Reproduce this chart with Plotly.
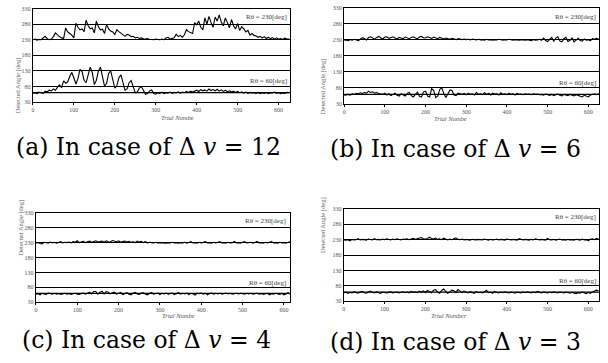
import plotly.graph_objects as go

trials = list(range(0, 626, 5))

a_upper = [230,232,229,231,230,236,241,233,230,232,
           240,252,245,240,236,234,268,255,250,245,
           236,283,270,262,265,256,293,275,265,268,
           252,290,272,262,264,250,280,265,258,255,
           247,262,256,250,247,241,247,245,240,241,
           236,238,234,236,233,232,234,231,231,230,
           232,231,230,232,230,236,238,232,233,236,
           248,240,244,238,246,262,256,253,250,285,
           278,290,270,262,300,280,305,285,270,303,
           290,310,287,275,300,285,268,295,275,265,
           282,260,272,265,255,260,245,250,244,242,
           238,241,236,240,234,238,233,237,232,236,
           232,234,231,235,232,233]
a_lower = [58,60,57,62,60,58,65,63,68,66,
           72,68,78,85,76,98,90,95,112,125,
           108,88,105,135,128,100,92,120,142,125,
           86,100,130,142,115,80,90,122,130,105,
           75,82,108,117,95,68,72,92,99,80,
           60,62,75,80,65,55,57,66,69,57,
           55,60,58,62,57,60,59,62,58,61,
           60,63,59,62,60,64,61,65,62,66,
           68,64,70,66,69,65,72,67,70,66,
           71,65,69,64,68,63,66,62,65,61,
           64,60,63,59,62,58,61,59,60,58,
           61,57,60,58,61,57,60,59,62,58,
           60,57,59,58,61,60]
b_upper = [229,230,228,231,229,232,230,228,233,237,
           234,230,238,240,236,232,238,241,236,233,
           239,240,235,237,240,236,233,238,235,234,
           239,237,234,238,240,236,234,239,241,237,
           236,240,238,235,239,237,234,238,236,233,
           236,234,232,235,233,231,234,232,231,233,
           231,232,230,233,231,230,232,230,231,229,
           232,230,231,229,231,230,232,230,229,231,
           230,232,230,229,231,230,229,231,230,229,
           231,230,228,231,229,230,232,229,236,228,
           225,232,238,226,236,240,227,224,234,238,
           225,229,236,224,230,235,228,226,233,229,
           231,227,234,232,235,233]
b_lower = [57,58,60,58,62,60,63,62,65,63,
           66,64,70,66,68,64,66,63,62,60,
           64,58,62,56,60,64,57,55,62,58,
           55,63,66,56,52,60,67,54,52,68,
           70,55,52,78,72,50,55,76,80,62,
           50,62,74,72,58,56,64,62,60,63,
           59,64,60,62,58,66,60,62,59,65,
           60,63,58,64,61,62,58,65,60,62,
           59,64,60,62,58,63,60,61,59,62,
           60,61,59,62,60,61,59,60,58,61,
           59,57,60,56,59,61,57,55,60,58,
           56,60,57,55,59,56,53,52,57,55,
           52,58,60,62,59,63]
c_upper = [229,230,227,226,231,229,228,232,229,231,
           228,230,233,229,231,230,232,229,233,231,
           236,230,232,234,230,233,235,231,234,236,
           232,233,235,231,236,233,232,237,234,233,
           236,231,234,235,232,234,231,233,230,235,
           232,234,230,233,229,231,230,229,231,228,
           230,229,230,228,230,229,231,229,230,228,
           230,229,231,228,230,233,229,230,228,231,
           229,230,233,229,230,228,231,229,230,233,
           229,230,228,231,229,230,234,229,230,228,
           231,233,229,230,231,228,230,234,229,230,
           228,231,229,230,233,229,230,228,231,229,
           230,228,231,234,230,232]
c_lower = [57,59,55,60,58,56,61,58,57,60,
           57,59,56,58,60,57,59,56,58,60,
           57,56,59,61,57,62,64,58,66,66,
           57,64,67,58,66,64,58,62,64,57,
           61,63,56,60,62,57,55,60,63,58,
           56,61,62,57,55,60,62,57,59,61,
           56,60,58,61,57,59,61,56,60,62,
           57,60,58,61,56,60,58,54,60,59,
           61,57,60,55,59,61,57,60,58,60,
           57,59,61,58,60,57,59,60,58,60,
           59,57,60,58,60,57,59,60,57,59,
           56,58,60,55,59,57,60,58,56,60,
           55,58,62,57,64,60]
d_upper = [229,228,230,226,231,229,230,233,229,231,
           230,228,232,230,229,233,230,231,229,232,
           230,233,231,229,232,230,233,231,229,232,
           231,233,230,232,234,231,233,235,237,233,
           232,234,238,234,232,235,231,233,230,235,
           231,229,232,230,233,236,231,230,232,229,
           231,230,228,231,230,229,231,230,229,232,
           230,228,231,229,230,232,229,231,230,228,
           232,230,229,231,230,228,233,230,229,231,
           230,228,231,229,233,230,229,231,230,228,
           234,230,229,231,228,230,232,229,230,228,
           231,229,230,228,231,230,228,232,229,230,
           227,231,233,230,234,232]
d_lower = [58,60,56,59,57,61,58,56,60,62,
           58,56,60,63,59,57,61,58,56,60,
           58,57,59,61,57,59,60,57,59,61,
           58,60,57,62,59,61,58,63,60,64,
           58,65,62,58,66,68,60,56,65,70,
           62,56,60,66,64,58,68,62,58,63,
           60,57,61,59,56,62,58,60,57,61,
           66,58,60,56,62,59,57,60,58,61,
           59,57,60,58,56,60,59,57,60,58,
           61,59,57,60,58,62,59,57,60,58,
           57,60,58,61,59,57,60,58,57,60,
           58,56,59,57,55,58,56,60,57,55,
           59,56,60,63,66,64]

ref_angles = [230, 60]
ref_labels = ["Rθ = 230[deg]", "Rθ = 60[deg]"]
ref_label_y = [302, 96]
y_ticks = [30, 80, 130, 180, 230, 280, 330]
x_ticks = [0, 100, 200, 300, 400, 500, 600]
captions = ["(a) In case of Δ <i>v</i> = 12", "(b) In case of Δ <i>v</i> = 6",
            "(c) In case of Δ <i>v</i> = 4", "(d) In case of Δ <i>v</i> = 3"]
xtitles = ["Trial Numbe", "Trial Numbe", "Trial Numbe", "Trial Number"]
series = [(a_upper, a_lower), (b_upper, b_lower), (c_upper, c_lower), (d_upper, d_lower)]
for u, l in series:
    assert len(u) == len(trials) and len(l) == len(trials)

W, H = 608, 363
# panel pixel boxes: (left, right, top, bottom, xmax)
boxes = [(31, 289, 5.7, 100.7, 628), (343.3, 599.3, 5, 102.7, 627),
         (34, 288.7, 213.3, 304.3, 614), (343, 599.3, 209.3, 303.3, 627)]
title_off = [16, 15, 13, 14]
cap_pos = [(147, 146), (455, 148), (145, 343), (455, 345)]

fig = go.Figure()
tickfont = dict(family="Liberation Serif", size=6, color="#555")
for i, ((u, l), (x0, x1, yt, yb, xmax)) in enumerate(zip(series, boxes)):
    n = "" if i == 0 else str(i + 1)
    xa, ya = "x" + n, "y" + n
    for s in (u, l):
        fig.add_trace(go.Scatter(x=trials, y=s, mode="lines", xaxis=xa, yaxis=ya,
                                 line=dict(color="black", width=1.1), showlegend=False,
                                 hoverinfo="skip"))
    fig.layout["xaxis" + n] = dict(domain=[x0 / W, x1 / W], range=[0, xmax], anchor=ya,
                                   tickvals=x_ticks, showgrid=False, zeroline=False,
                                   showline=True, mirror=True, linecolor="black", linewidth=1.3,
                                   ticks="outside", ticklen=1.5, tickcolor="black",
                                   tickfont=tickfont)
    fig.layout["yaxis" + n] = dict(domain=[1 - yb / H, 1 - yt / H], range=[30, 330], anchor=xa,
                                   tickvals=y_ticks, showgrid=True, gridcolor="black",
                                   gridwidth=1.2, zeroline=False,
                                   showline=True, mirror=True, linecolor="black", linewidth=1.3,
                                   ticks="", tickfont=tickfont)
    fig.add_shape(type="line", xref=xa + " domain", yref=ya, x0=0, x1=1,
                  y0=ref_angles[1], y1=ref_angles[1], line=dict(color="black", width=1.2))
    for lab, ly in zip(ref_labels, ref_label_y):
        fig.add_annotation(x=0.995, xref=xa + " domain", y=ly, yref=ya, text=lab,
                           showarrow=False, xanchor="right", yanchor="middle",
                           font=dict(family="Liberation Serif", size=7, color="#444"))
    # axis titles
    fig.add_annotation(x=(x0 - 21) / W, y=1 - (yt + yb) / 2 / H, xref="paper", yref="paper",
                       text="Detected Angle [deg]", textangle=-90, showarrow=False,
                       font=dict(family="Liberation Serif", size=6.5, color="#666"))
    fig.add_annotation(x=(x0 + 0.49 * (x1 - x0)) / W, y=1 - (yb + title_off[i]) / H,
                       xref="paper", yref="paper", yanchor="middle",
                       text="<i>" + xtitles[i] + "</i>", showarrow=False,
                       font=dict(family="Liberation Serif", size=6.5, color="#555"))
    cx, cy = cap_pos[i]
    fig.add_annotation(x=cx / W, y=1 - cy / H, xref="paper", yref="paper", text=captions[i],
                       showarrow=False, xanchor="center", yanchor="middle",
                       font=dict(family="DejaVu Serif", size=23.5, color="black"))

fig.update_layout(width=W, height=H, margin=dict(l=0, r=0, t=0, b=0),
                  paper_bgcolor="white", plot_bgcolor="white")
fig.write_html("out.html")
